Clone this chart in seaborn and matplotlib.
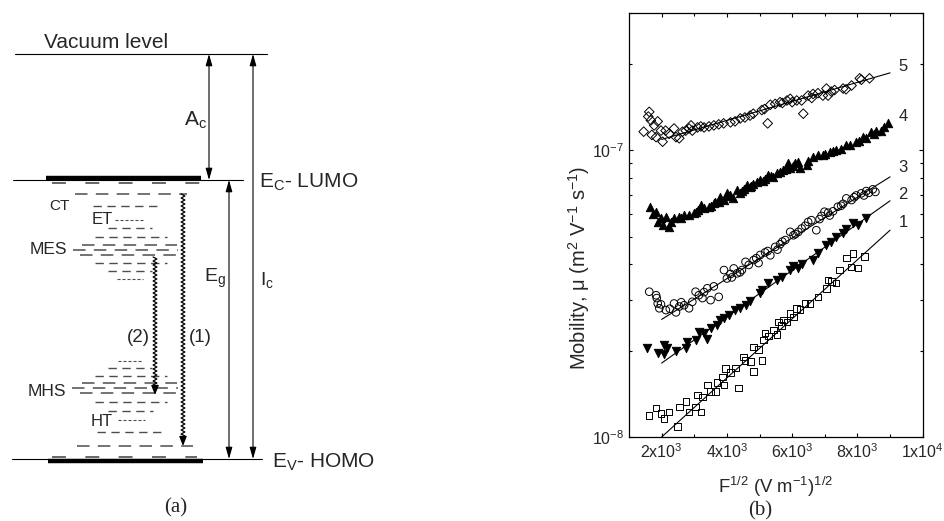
import numpy as np
import matplotlib
matplotlib.use("Agg")
import matplotlib.pyplot as plt
from matplotlib.ticker import FixedLocator, LogLocator, NullFormatter
import seaborn as sns

# ---- panel (b): F^1/2 in units of 1e3 (V/m)^1/2, mobility in units of 1e-8 m2/Vs
x1 = [1.62, 1.83, 1.98, 2.07, 2.23, 2.49, 2.54, 2.74, 2.84, 3.04, 3.10, 3.20, 3.25, 3.40,
      3.50, 3.65, 3.70, 3.86, 3.91, 3.96, 4.11, 4.26, 4.36, 4.51, 4.56, 4.72, 4.82, 4.82,
      4.97, 5.07, 5.12, 5.17, 5.27, 5.43, 5.53, 5.58, 5.68, 5.73, 5.84, 5.94, 6.04, 6.14,
      6.24, 6.39, 6.54, 6.79, 7.05, 7.10, 7.20, 7.35, 7.45, 7.66, 7.86, 7.81, 8.01, 8.22]
y1 = [1.19, 1.26, 1.21, 1.16, 1.22, 1.09, 1.27, 1.33, 1.22, 1.27, 1.40, 1.22, 1.38, 1.52,
      1.44, 1.44, 1.55, 1.62, 1.52, 1.73, 1.68, 1.74, 1.48, 1.90, 1.85, 1.83, 1.69, 2.06,
      2.02, 1.85, 2.18, 2.30, 2.25, 2.36, 2.28, 2.52, 2.45, 2.56, 2.52, 2.70, 2.62, 2.81,
      2.78, 2.92, 2.92, 3.08, 3.30, 3.52, 3.48, 3.44, 3.82, 4.20, 4.37, 3.92, 3.88, 4.25]

x2 = [1.55, 1.90, 2.08, 2.16, 2.08, 2.45, 2.74, 2.79, 3.04, 3.14, 3.30, 3.40, 3.50, 3.70,
      3.80, 3.91, 4.06, 4.26, 4.41, 4.57, 4.72, 5.02, 5.07, 5.27, 5.53, 5.68, 5.94, 6.04,
      6.19, 6.29, 6.64, 6.79, 7.05, 7.20, 7.35, 7.56, 7.66, 7.86, 8.01, 8.27]
y2 = [2.04, 1.97, 2.09, 2.04, 1.95, 2.00, 2.04, 2.15, 2.18, 2.33, 2.30, 2.20, 2.40, 2.46,
      2.55, 2.60, 2.66, 2.77, 2.82, 2.88, 2.97, 3.17, 3.25, 3.43, 3.53, 3.62, 3.82, 3.94,
      3.88, 4.00, 4.14, 4.37, 4.67, 4.80, 4.99, 5.13, 5.33, 5.56, 5.49, 5.78]

x3 = [1.62, 1.83, 1.85, 1.88, 1.98, 1.93, 2.13, 2.38, 2.44, 2.54, 2.69, 2.84, 2.94, 3.04,
      3.14, 3.25, 3.40, 3.50, 3.75, 3.91, 4.00, 4.11, 4.21, 4.31, 4.46, 4.57, 4.67, 4.82,
      4.97, 5.02, 5.17, 5.33, 5.48, 5.63, 5.79, 5.94, 6.04, 6.19, 6.29, 6.49, 6.59, 6.74,
      6.84, 6.99, 7.15, 7.25, 7.40, 7.56, 7.66, 7.82, 7.96, 8.12, 8.27, 8.47, 8.55,
      2.25, 2.60, 3.30, 3.60, 4.15, 4.40, 4.90, 5.25, 5.55, 5.70, 6.10, 6.40, 6.90, 7.10,
      7.50, 7.90, 8.20, 8.35]
y3 = [3.21, 3.12, 3.05, 2.92, 2.90, 2.81, 2.77, 2.92, 2.72, 2.85, 2.88, 2.81, 2.96, 3.21,
      3.12, 3.05, 3.30, 3.00, 3.08, 3.82, 3.57, 3.70, 3.87, 3.72, 3.82, 4.08, 3.98, 4.14,
      4.04, 4.31, 4.40, 4.30, 4.60, 4.70, 4.86, 5.19, 5.05, 5.19, 5.33, 5.62, 5.70, 5.26,
      5.75, 6.10, 5.92, 6.12, 6.35, 6.50, 6.79, 6.70, 6.95, 7.07, 7.20, 7.30, 7.15,
      2.80, 2.95, 3.20, 3.35, 3.60, 3.75, 4.20, 4.45, 4.50, 4.80, 5.10, 5.45, 5.90, 6.05,
      6.40, 6.85, 6.95, 7.10]

x4 = [1.63, 1.83, 1.98, 2.03, 2.12, 2.22, 2.38, 2.54, 2.69, 2.84, 2.99, 3.10, 3.20, 3.30,
      3.45, 3.60, 3.75, 3.80, 3.90, 4.00, 4.10, 4.20, 4.30, 4.41, 4.51, 4.61, 4.71, 4.81,
      4.91, 5.02, 5.17, 5.27, 5.42, 5.53, 5.63, 5.73, 5.88, 5.94, 6.04, 6.19, 6.24, 6.44,
      6.64, 6.79, 6.94, 7.15, 7.35, 7.50, 7.66, 7.76, 7.96, 8.17, 8.27, 8.42, 8.57, 8.73,
      8.93, 1.75, 1.90, 2.30, 2.60, 3.05, 3.50, 3.65, 4.05, 4.45, 4.75, 5.10, 5.35, 5.80,
      6.10, 6.50, 7.00, 7.25, 8.05, 8.50, 8.80]
y4 = [6.35, 6.10, 5.78, 5.48, 5.86, 5.40, 5.78, 5.86, 5.94, 5.94, 6.02, 6.18, 6.43, 6.27,
      6.35, 6.52, 6.60, 6.88, 6.70, 7.07, 7.00, 6.80, 7.26, 7.07, 7.35, 7.55, 7.45, 7.65,
      7.75, 7.86, 7.96, 8.18, 8.07, 8.30, 8.40, 8.51, 8.99, 8.70, 8.80, 9.10, 8.70, 8.90,
      9.48, 9.60, 9.60, 9.86, 10.0, 10.1, 10.4, 10.4, 10.7, 11.1, 11.0, 11.6, 11.7, 11.7,
      12.4, 6.00, 5.60, 5.60, 5.80, 6.10, 6.40, 6.60, 6.90, 7.20, 7.50, 7.80, 8.10, 8.60,
      9.00, 9.20, 9.70, 9.90, 10.8, 11.4, 12.0]

x5 = [1.45, 1.59, 1.62, 1.67, 1.77, 1.83, 1.88, 1.98, 2.03, 2.12, 2.23, 2.38, 2.44, 2.54,
      2.64, 2.74, 2.84, 2.94, 3.10, 3.20, 3.30, 3.60, 3.75, 4.11, 4.41, 4.71, 4.81, 5.07,
      5.25, 5.33, 5.48, 5.63, 5.84, 5.94, 6.14, 6.29, 6.34, 6.49, 6.64, 6.79, 6.94, 7.05,
      7.10, 7.30, 7.56, 7.82, 8.07, 8.12, 8.37,
      1.70, 2.90, 3.45, 3.90, 4.25, 4.55, 5.15, 5.70, 6.00, 6.60, 7.20, 7.65]
y5 = [11.6, 13.1, 13.6, 12.7, 12.2, 11.1, 12.6, 11.7, 10.7, 11.7, 11.4, 11.9, 11.1, 11.0,
      11.6, 11.7, 11.9, 11.7, 12.0, 12.1, 12.0, 12.2, 12.3, 12.5, 12.9, 13.2, 13.4, 13.8,
      12.4, 14.4, 14.5, 14.7, 14.9, 15.1, 14.9, 14.9, 13.4, 15.5, 15.7, 15.8, 15.5, 16.4,
      15.5, 16.2, 16.4, 16.8, 17.8, 17.6, 17.8,
      11.3, 12.2, 12.1, 12.4, 12.6, 13.0, 13.9, 14.6, 14.7, 15.2, 16.0, 16.3]

# Poole-Frenkel fits (end points of the straight lines)
fit_x = [2.0, 9.0]
fit1 = [1.00, 5.26]
fit2 = [1.81, 6.66]
fit3 = [2.57, 8.07]
fit5 = [10.9, 18.6]

curve_names = ["1", "2", "3", "4", "5"]
curve_label_y = [5.6, 7.0, 8.7, 13.1, 19.5]
curve_label_x = 9.4

xtick_vals = [2000, 4000, 6000, 8000, 10000]
xtick_labels = [r"2x10$^{3}$", r"4x10$^{3}$", r"6x10$^{3}$", r"8x10$^{3}$", r"1x10$^{4}$"]
ytick_vals = [1e-8, 1e-7]
ytick_labels = [r"10$^{-8}$", r"10$^{-7}$"]

# ---- panel (a): schematic energy diagram (pixel-like coordinates, y downwards)
vacuum_y, lumo_y, homo_y = 54, 180, 459
trap_rows = [  # y, x start, x end, dash style
    (183, 52, 200, "wide"), (194, 75, 187, "long"), (206, 93, 160, "mid"),
    (220, 115, 143, "fine"), (228, 108, 152, "mid"), (237, 95, 167, "mid"),
    (245, 82, 177, "long"), (250, 73, 178, "long"), (255, 80, 177, "long"),
    (263, 95, 167, "mid"), (271, 108, 152, "mid"), (279, 117, 143, "fine"),
    (361, 118, 143, "fine"), (368, 108, 152, "mid"), (376, 95, 167, "mid"),
    (383, 82, 177, "long"), (388, 72, 178, "long"), (393, 80, 177, "long"),
    (402, 95, 167, "mid"), (411, 108, 153, "mid"), (420, 118, 145, "fine"),
    (432, 97, 163, "mid"), (446, 77, 193, "long"), (457, 52, 197, "wide"),
]
dash_styles = {"wide": ((0, (10, 14)), 1.2), "long": ((0, (9, 6)), 1.1),
               "mid": ((0, (6, 4)), 1.0), "fine": ((0, (2.2, 1.4)), 0.8)}
# wavy transitions: x, start y, end y
wavy = [(183, 194, 446), (155, 257, 395)]

sns.set_style("ticks")
plt.rcParams["font.family"] = ["Liberation Sans", "DejaVu Sans"]
plt.rcParams["mathtext.fontset"] = "custom"
plt.rcParams["mathtext.rm"] = "Liberation Sans"
plt.rcParams["mathtext.it"] = "Liberation Sans:italic"
plt.rcParams["mathtext.default"] = "regular"
plt.rcParams["lines.scale_dashes"] = False

fig = plt.figure(figsize=(9.44, 5.21), dpi=100)
W, H = 944, 521

# ---------- (a)
axa = fig.add_axes([0, 0, 1, 1])
axa.set_xlim(0, W)
axa.set_ylim(H, 0)
axa.axis("off")

axa.plot([15, 267], [vacuum_y, vacuum_y], color="k", lw=0.8)
axa.plot([13, 243], [lumo_y, lumo_y], color="k", lw=0.8)
axa.plot([46, 201], [lumo_y - 2.5, lumo_y - 2.5], color="k", lw=3.2, solid_capstyle="butt")
axa.plot([12, 262], [homo_y, homo_y], color="k", lw=0.8)
axa.plot([48, 203], [homo_y + 2, homo_y + 2], color="k", lw=3.2, solid_capstyle="butt")

for ry, rxa, rxb, st in trap_rows:
    ls, lw = dash_styles[st]
    axa.plot([rxa, rxb], [ry, ry], color="#4d4d4d", lw=lw, linestyle=ls)

arr = dict(arrowstyle="<|-|>,head_length=0.7,head_width=0.2", color="k", lw=0.8,
           shrinkA=0, shrinkB=0)
axa.annotate("", xy=(209, vacuum_y), xytext=(209, lumo_y), arrowprops=arr)
axa.annotate("", xy=(253, vacuum_y), xytext=(253, homo_y), arrowprops=arr)
axa.annotate("", xy=(229, lumo_y), xytext=(229, homo_y), arrowprops=arr)

for wx, wy0, wy1 in wavy:
    wy = np.arange(wy0, wy1 - 8, 2.0)
    wxs = wx + 1.9 * np.where(np.arange(len(wy)) % 2 == 0, -1, 1)
    axa.plot(wxs, wy, color="k", lw=0.9)
    axa.annotate("", xy=(wx, wy1), xytext=(wx, wy1 - 9),
                 arrowprops=dict(arrowstyle="-|>,head_length=0.55,head_width=0.22",
                                 color="k", lw=1.0, shrinkA=0, shrinkB=0))

axa.text(106, 48, "Vacuum level", fontsize=15, ha="center", va="baseline")
axa.text(207, 120, r"A$_{c}$", fontsize=15, ha="right", va="center")
axa.text(226, 278, r"E$_{g}$", fontsize=14, ha="right", va="center")
axa.text(260, 280, r"I$_{c}$", fontsize=14, ha="left", va="center")
axa.text(259, 188, r"E$_{C}$- LUMO", fontsize=15, ha="left", va="baseline")
axa.text(272, 468, r"E$_{V}$- HOMO", fontsize=15, ha="left", va="baseline")
axa.text(59, 206, "CT", fontsize=11, ha="center", va="center")
axa.text(92, 219, "ET", fontsize=12, ha="left", va="center")
axa.text(67, 250, "MES", fontsize=12.5, ha="right", va="center")
axa.text(66, 391, "MHS", fontsize=12.5, ha="right", va="center")
axa.text(91, 421, "HT", fontsize=12, ha="left", va="center")
axa.text(200, 337, "(1)", fontsize=13.5, ha="center", va="center")
axa.text(138, 337, "(2)", fontsize=13.5, ha="center", va="center")

# ---------- (b)
axb = fig.add_axes([629 / W, 1 - 437 / H, (922.7 - 629) / W, (437 - 13.3) / H])

series = [(x5, y5, "D", False, 24), (x4, y4, "^", True, 36), (x3, y3, "o", False, 30),
          (x2, y2, "v", True, 36), (x1, y1, "s", False, 22)]
for xs, ys, mk, filled, sz in series:
    sns.scatterplot(x=np.array(xs) * 1e3, y=np.array(ys) * 1e-8, marker=mk, s=sz,
                    color="black", facecolor="black" if filled else "none",
                    edgecolor="black", linewidth=0.7, ax=axb, zorder=3)

for fy in [fit1, fit2, fit3, fit5]:
    sns.lineplot(x=np.array(fit_x) * 1e3, y=np.array(fy) * 1e-8, color="black",
                 lw=0.8, estimator=None, ax=axb, zorder=2)

for name, ly in zip(curve_names, curve_label_y):
    axb.text(curve_label_x * 1e3, ly * 1e-8, name, fontsize=12, ha="center", va="center")

axb.set_yscale("log")
axb.set_xlim(1000, 10000)
axb.set_ylim(1e-8, 3e-7)
axb.set_xticks(xtick_vals, labels=xtick_labels)
axb.xaxis.set_minor_locator(FixedLocator([3000, 5000, 7000, 9000]))
axb.set_yticks(ytick_vals, labels=ytick_labels)
axb.yaxis.set_minor_locator(LogLocator(base=10, subs=np.arange(2, 10)))
axb.yaxis.set_minor_formatter(NullFormatter())
axb.tick_params(which="both", direction="in", top=True, right=True, labelsize=11.5,
                width=0.8, color="k")
axb.tick_params(which="major", length=3.2)
axb.tick_params(which="minor", length=2.4)
for sp in axb.spines.values():
    sp.set_linewidth(0.9)
    sp.set_color("k")
axb.set_xlabel(r"F$^{1/2}$ (V m$^{-1}$)$^{1/2}$", fontsize=13.3, labelpad=10)
axb.set_ylabel(r"Mobility, μ (m$^{2}$ V$^{-1}$ s$^{-1}$)", fontsize=14.5)
axb.yaxis.set_label_coords(-0.125, 0.40)

fig.text(176 / W, 1 - 508 / H, "(a)", fontsize=15, family="Liberation Serif",
         ha="center", va="center")
fig.text(760 / W, 1 - 511 / H, "(b)", fontsize=15, family="Liberation Serif",
         ha="center", va="center")

fig.savefig("out.png", dpi=100)
